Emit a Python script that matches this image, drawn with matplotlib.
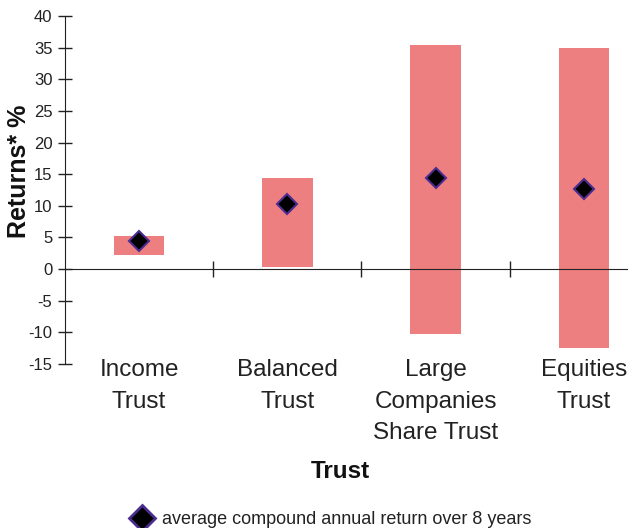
import matplotlib
matplotlib.use("Agg")
import matplotlib.pyplot as plt
import matplotlib.transforms as mtransforms
from matplotlib.lines import Line2D

plt.rcParams['font.family'] = ['Liberation Sans', 'DejaVu Sans']
plt.rcParams['axes.unicode_minus'] = False

categories = ["Income\nTrust", "Balanced\nTrust", "Large\nCompanies\nShare Trust", "Equities\nTrust"]
range_low = [2.2, 0.4, -10.3, -12.5]
range_high = [5.2, 14.4, 35.4, 34.9]
avg_return = [4.5, 10.3, 14.4, 12.6]
yticks = list(range(-15, 45, 5))

bar_color = "#EE7F81"
marker_edge = "#4B2D8F"

fig = plt.figure(figsize=(6.28, 5.28), dpi=100)
ax = fig.add_axes([65/628, 1-364/528, 593/628, 348/528])

x = list(range(len(categories)))
heights = [h - l for h, l in zip(range_high, range_low)]
ax.bar(x, heights, bottom=range_low, width=0.34, color=bar_color, edgecolor='none', zorder=2)
ax.plot(x, avg_return, linestyle='none', marker='D', markersize=10, markerfacecolor='black',
        markeredgecolor=marker_edge, markeredgewidth=1.5, zorder=3)

ax.set_xlim(-0.5, len(categories) - 0.5)
ax.set_ylim(-15, 40)
ax.set_yticks(yticks)
ax.tick_params(axis='y', direction='inout', length=10, width=1, labelsize=12, pad=4, colors='#222222')
ax.set_xticks([i + 0.5 for i in range(len(categories) - 1)])
ax.set_xticklabels([])
ax.tick_params(axis='x', direction='inout', length=12, width=1, colors='#222222')

for s in ['top', 'right']:
    ax.spines[s].set_visible(False)
ax.spines['bottom'].set_position(('data', 0))
ax.spines['bottom'].set_color('#222222')
ax.spines['left'].set_color('#222222')

trans = mtransforms.blended_transform_factory(ax.transData, fig.transFigure)
for i, c in enumerate(categories):
    ax.text(i, 1 - 359/528, c, transform=trans, ha='center', va='top', fontsize=17.5,
            linespacing=1.57, color='#222222')

fig.text(19/628, 1 - 171/528, "Returns* %", rotation=90, ha='center', va='center',
         fontsize=18, fontweight='bold', color='#111111')
fig.text(340/628, 1 - 471/528, "Trust", ha='center', va='center',
         fontsize=17.5, fontweight='bold', color='#111111')

fig.lines.append(Line2D([142/628], [1 - 518/528], transform=fig.transFigure, linestyle='none',
                        marker='D', markersize=13, markerfacecolor='black',
                        markeredgecolor=marker_edge, markeredgewidth=2))
fig.text(162/628, 1 - 519/528, "average compound annual return over 8 years", ha='left',
         va='center', fontsize=13, color='#222222')

fig.savefig("out.png", dpi=100)
